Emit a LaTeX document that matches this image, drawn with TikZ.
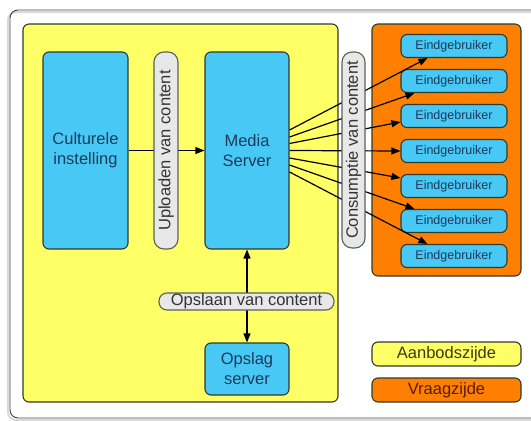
\documentclass[tikz,border=0pt]{standalone}
\usepackage{fontspec}
\setmainfont{Liberation Sans}
\usetikzlibrary{arrows.meta,calc}
\definecolor{ylw}{HTML}{FFFF66}
\definecolor{org}{HTML}{FF8000}
\definecolor{blu}{HTML}{48C8F5}
\definecolor{pil}{HTML}{E8E8E8}
\definecolor{edge}{HTML}{2E3A2E}
\definecolor{navy}{HTML}{1C3A5A}
\definecolor{olive}{HTML}{3A3A12}
\definecolor{brick}{HTML}{5A1A05}
\begin{document}
\begin{tikzpicture}[x=1pt,y=-1pt,
  big/.style={font=\fontsize{16.5}{20}\selectfont},
  panel/.style={draw=edge,line width=1.1pt,rounded corners=6pt,inner sep=0pt},
  bluebox/.style={draw=edge,fill=blu,line width=1.1pt,rounded corners=6pt,inner sep=0pt,text=navy,align=center,big},
  enduser/.style={draw=edge,fill=blu,line width=1.1pt,rounded corners=6pt,inner sep=0pt,text=navy,minimum width=106pt,minimum height=23pt,font=\fontsize{12.5}{14}\selectfont},
  pill/.style={draw=edge!80,fill=pil,line width=1.1pt,rounded corners=8pt,inner sep=0pt,text=black!80,big},
  arr/.style={line width=1.2pt,-{Triangle[length=9pt,width=7pt]}},
  legend/.style={draw=edge,line width=1.1pt,rounded corners=6pt,inner sep=0pt,minimum width=149pt,minimum height=24pt,big}
]
\useasboundingbox (0,0) rectangle (531,421);
% outer frame
\draw[black!15,line width=2pt,rounded corners=8pt] (8,12) rectangle (545,420);
\draw[black!75,line width=0.9pt,rounded corners=8pt] (10,10) rectangle (545,418);
% panels
\node[panel,fill=ylw,minimum width=315pt,minimum height=378pt] (aanbod) at (180.5,213) {};
\node[panel,fill=org,minimum width=149pt,minimum height=252pt] (vraag) at (446.5,150) {};
% boxes
\node[bluebox,minimum width=85pt,minimum height=197pt] (cult) at (85.5,150.5) {Culturele\\instelling};
\node[bluebox,minimum width=84pt,minimum height=197pt] (ms) at (247,150.5) {Media\\Server};
\node[bluebox,minimum width=84pt,minimum height=52pt] (opslag) at (247,369) {Opslag\\server};
\foreach \i/\y in {1/46,2/81,3/116,4/151,5/186,6/221,7/256}{
  \node[enduser] (e\i) at (454,\y) {Eindgebruiker};
}
% connectors
\draw[arr] (cult.east |- ms.east) -- (ms.west);
\draw[line width=1.2pt,{Triangle[length=9pt,width=7pt]}-{Triangle[length=9pt,width=7pt]}] (ms.south) -- (opslag.north);
\draw[arr] ($(ms.east)+(0,-20.5)$) -- ($(e1.south west)+(27,0)$);
\draw[arr] ($(ms.east)+(0,-13.5)$) -- ($(e2.south west)+(14,0)$);
\draw[arr] ($(ms.east)+(0,-7)$) -- ($(e3.west)+(0,6)$);
\draw[arr] ($(ms.east)+(0,0)$) -- (e4.west);
\draw[arr] ($(ms.east)+(0,7.5)$) -- ($(e5.west)+(0,-8)$);
\draw[arr] ($(ms.east)+(0,14.5)$) -- ($(e6.north west)+(14,0)$);
\draw[arr] ($(ms.east)+(0,21.5)$) -- ($(e7.north west)+(27,0)$);
% pills
\node[pill,rotate=90,minimum width=197pt,minimum height=24pt,rounded corners=10pt] (upl) at (166,150.5) {Uploaden van content};
\node[pill,rotate=90,minimum width=196pt,minimum height=23pt,rounded corners=10pt] (cons) at (353.5,150) {Consumptie van content};
\node[pill,minimum width=175pt,minimum height=17pt] (opsl) at (246.5,301.5) {Opslaan van content};
% legend
\node[legend,fill=ylw,text=olive] (lg1) at (446.5,354) {Aanbodszijde};
\node[legend,fill=org,text=brick] (lg2) at (446.5,390) {Vraagzijde};
\end{tikzpicture}
\end{document}
